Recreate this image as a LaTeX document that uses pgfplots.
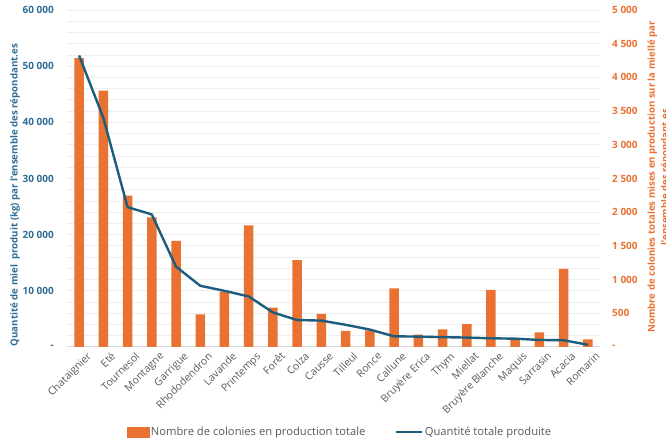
\documentclass[border=0pt]{standalone}
\usepackage{fontspec}
\setmainfont{Open Sans}
\usepackage{pgfplots}
\pgfplotsset{compat=1.18}
\usepackage{pgfplotstable}

\definecolor{barorange}{HTML}{E97132}
\definecolor{lineblue}{HTML}{1C5C7D}
\definecolor{leftblue}{HTML}{2E6D94}
\definecolor{labgray}{HTML}{595959}
\definecolor{gridgray}{HTML}{EEEEEE}
\definecolor{basegray}{HTML}{D9D9D9}

% colonies: number of colonies put into production; quantite: honey produced (kg)
\pgfplotstableread{
idx colonies quantite
0  4285 51900
1  3805 40800
2  2246 24900
3  1924 23600
4  1573 14300
5  485  10900
6  821  10000
7  1806 9000
8  584  6150
9  1289 4800
10 492  4700
11 240  3950
12 245  3100
13 868  1900
14 182  1850
15 262  1750
16 341  1680
17 846  1550
18 132  1480
19 218  1250
20 1160 1200
21 114  400
}\miellees

\pgfplotsset{
  common/.style={
    scale only axis, width=533pt, height=337pt,
    at={(67pt,96pt)}, anchor=south west,
    xmin=-0.5, xmax=21.5, ymin=0,
    axis line style={draw=none}, major tick length=0pt,
  },
}

\begin{document}
\begin{tikzpicture}[x=1pt,y=1pt]
\useasboundingbox (0,0) rectangle (666,443);

% background grid and baseline
\begin{axis}[common, ymax=60000,
  ytick={2000,4000,...,60000}, yticklabels={}, xtick=\empty,
  ymajorgrids, grid style={gridgray, line width=0.8pt},
  extra y ticks={0}, extra y tick labels={},
  extra y tick style={grid style={basegray, line width=1pt}}]
\end{axis}

% colonies, right axis
\begin{axis}[common, ymax=5000,
  axis y line*=right, axis x line*=bottom,
  ytick={0,500,...,5000},
  yticklabels={-,500,1 000,1 500,2 000,2 500,3 000,3 500,4 000,4 500,5 000},
  yticklabel style={font=\fontsize{10}{12}\selectfont\bfseries, text=barorange,
    anchor=west, inner sep=0pt, xshift=12pt},
  xtick={0,...,21},
  xticklabels={Chataignier,Eté,Tournesol,Montagne,Garrigue,Rhododendron,Lavande,
    Printemps,Forêt,Colza,Causse,Tilleul,Ronce,Callune,Bruyère Erica,Thym,Miellat,
    Bruyère Blanche,Maquis,Sarrasin,Acacia,Romarin},
  xticklabel style={rotate=45, anchor=north east, inner sep=0pt,
    font=\fontsize{10.5}{12}\selectfont, text=labgray, yshift=-8pt, xshift=2pt}]
\addplot[ybar, bar width=9.5pt, fill=barorange, draw=none]
  table[x=idx, y=colonies]{\miellees};
\end{axis}

% honey quantity, left axis
\begin{axis}[common, ymax=60000,
  axis y line*=left, axis x line=none,
  ytick={0,10000,...,60000},
  yticklabels={-,10 000,20 000,30 000,40 000,50 000,60 000},
  yticklabel style={font=\fontsize{10}{12}\selectfont\bfseries, text=leftblue,
    anchor=east, inner sep=0pt, xshift=-13pt},
  legend columns=2,
  legend style={at={(0.512,-0.252)}, anchor=center, draw=none, fill=none,
    font=\fontsize{11.2}{13}\selectfont,
    /tikz/every even column/.append style={column sep=28pt},
    nodes={inner sep=1.5pt}},
  legend cell align=left]
\addlegendimage{legend image code/.code={\fill[barorange] (0pt,-5pt) rectangle (22pt,5pt);}}
\addlegendentry{\textcolor{labgray}{Nombre de colonies en production totale}}
\addplot[lineblue, line width=2.4pt, line join=round, mark=none,
  legend image code/.code={\draw[lineblue, line width=2.4pt] (0pt,0pt) -- (26pt,0pt);}]
  table[x=idx, y=quantite]{\miellees};
\addlegendentry{\textcolor{labgray}{Quantité totale produite}}
\end{axis}

% axis titles
\node[rotate=90, font=\fontsize{9.7}{12}\selectfont\bfseries, text=leftblue]
  at (15pt,248pt) {Quantité de miel\ \ produit (kg) par l'ensemble des répondant.es};
\node[rotate=90, align=center, font=\fontsize{9.6}{13.5}\selectfont\bfseries, text=barorange]
  at (659pt,266pt) {Nombre de colonies totales mises en production sur la miellé par\\l'ensemble des répondant.es};
\end{tikzpicture}
\end{document}
